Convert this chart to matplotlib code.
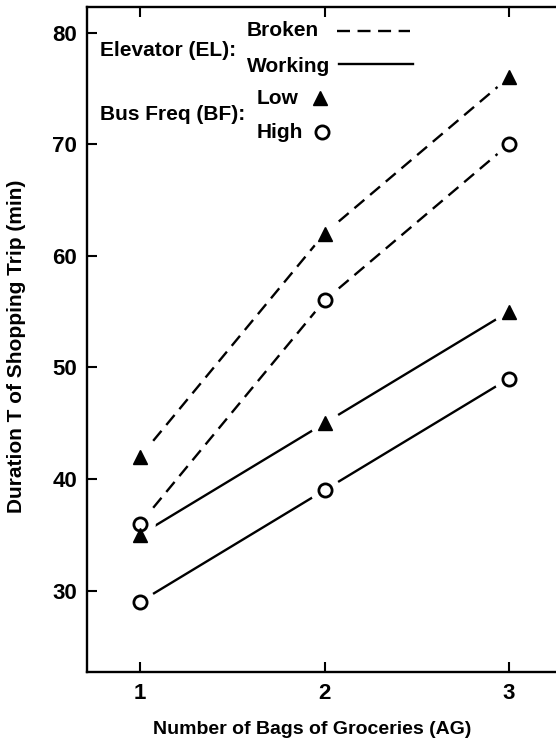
import matplotlib
matplotlib.use("Agg")
import matplotlib.pyplot as plt
from matplotlib.lines import Line2D

plt.rcParams['font.family'] = ['Liberation Sans', 'DejaVu Sans']
plt.rcParams['font.weight'] = 'bold'

# shopping trip durations (min) by bags of groceries
bags = [1, 2, 3]
broken_low = [42, 62, 76]
broken_high = [36, 56, 70]
working_low = [35, 45, 55]
working_high = [29, 39, 49]

y_ticks = [30, 40, 50, 60, 70, 80]

W, H = 556, 745
L, T, B = 87, 7, 672
fig = plt.figure(figsize=(W / 100, H / 100), dpi=100)
ax = fig.add_axes([L / W, (H - B) / H, (W - L) / W, (B - T) / H])

dash = (0, (5.5, 3.2))
series = [
    (broken_low, dash, '^'),
    (broken_high, dash, 'o'),
    (working_low, '-', '^'),
    (working_high, '-', 'o'),
]
for vals, ls, mk in series:
    ax.plot(bags, vals, color='black', lw=1.7, ls=ls, zorder=1)
    # white halo so the lines stop short of the markers
    ax.plot(bags, vals, ls='none', marker='o', ms=22, mfc='white', mec='none', zorder=2)
for vals, ls, mk in series:
    if mk == '^':
        ax.plot(bags, vals, ls='none', marker='^', ms=9.5, mfc='black', mec='black', zorder=3)
    else:
        ax.plot(bags, vals, ls='none', marker='o', ms=9.5, mfc='white', mec='black', mew=2, zorder=3)

ax.set_xlim(0.712, 3.255)
ax.set_ylim(22.7, 82.3)
ax.set_xticks(bags)
ax.set_yticks(y_ticks)
ax.tick_params(direction='in', length=7.5, width=1.5, labelsize=16, pad=7)
ax.tick_params(axis='x', top=True, pad=8)
ax.spines['right'].set_visible(False)
for s in ['left', 'bottom', 'top']:
    ax.spines[s].set_linewidth(1.7)

ax.set_xlabel('Number of Bags of Groceries (AG)', fontsize=14, fontweight='bold', va='center')
ax.xaxis.set_label_coords((312 - L) / (W - L), (B - 729) / (B - T))
ax.set_ylabel('Duration T of Shopping Trip (min)', fontsize=15, fontweight='bold', va='center')
ax.yaxis.set_label_coords((17 - L) / (W - L), (B - 346) / (B - T))


def px(x, y):
    return x / W, 1 - y / H


# key in the upper left corner
fs = 15
fig.text(*px(100, 50), 'Elevator (EL):', fontsize=fs, va='center', ha='left')
fig.text(*px(247, 31), 'Broken', fontsize=fs, va='center', ha='left')
fig.text(*px(247, 67), 'Working', fontsize=fs, va='center', ha='left')
fig.text(*px(100, 115), 'Bus Freq (BF):', fontsize=fs, va='center', ha='left')
fig.text(*px(257, 98), 'Low', fontsize=fs, va='center', ha='left')
fig.text(*px(257, 133), 'High', fontsize=fs, va='center', ha='left')

x0, y0 = px(337, 31)
x1, _ = px(410, 31)
fig.add_artist(Line2D([x0, x1], [y0, y0], color='black', lw=1.7, ls=dash))
x0, y0 = px(339, 64)
x1, _ = px(413, 64)
fig.add_artist(Line2D([x0, x1], [y0, y0], color='black', lw=1.7))
x0, y0 = px(320, 98)
fig.add_artist(Line2D([x0], [y0], ls='none', marker='^', ms=9.5, mfc='black', mec='black'))
x0, y0 = px(322, 132)
fig.add_artist(Line2D([x0], [y0], ls='none', marker='o', ms=9.5, mfc='white', mec='black', mew=2))

fig.savefig('out.png', dpi=100)
